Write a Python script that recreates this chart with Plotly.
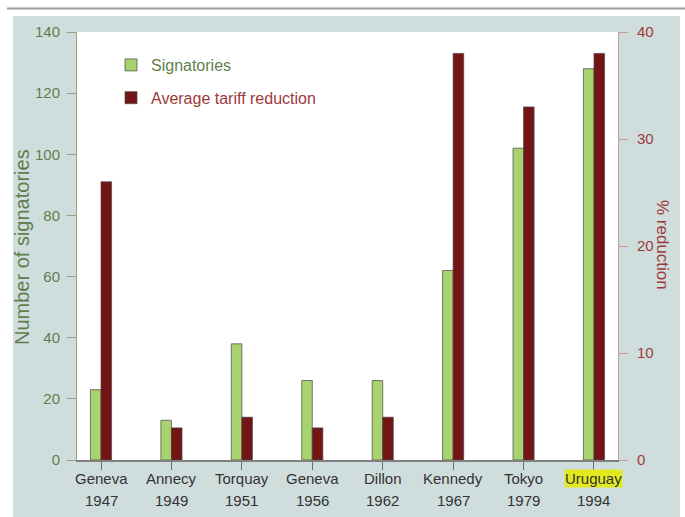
import plotly.graph_objects as go

# GATT negotiating rounds
rounds = ["Geneva", "Annecy", "Torquay", "Geneva", "Dillon", "Kennedy", "Tokyo", "Uruguay"]
years = ["1947", "1949", "1951", "1956", "1962", "1967", "1979", "1994"]
signatories = [23, 13, 38, 26, 26, 62, 102, 128]
tariff_cut = [26, 3, 4, 3, 4, 38, 33, 38]

FONT = "Liberation Sans, Arial, sans-serif"
GREEN = "#a9d36f"
RED = "#741515"
GREEN_TXT = "#5e7f4b"
RED_TXT = "#9c3a3a"
PANEL = "#cfdedd"

W, H = 685, 517
L, R, T, B = 77, 67, 32, 57
PW, PH = W - L - R, H - T - B


def px(x):
    return (x - L) / PW


def py(y):
    return (H - B - y) / PH


xs = list(range(len(rounds)))

fig = go.Figure()
fig.add_trace(go.Bar(
    x=xs, y=signatories,
    name="<span style='color:%s'>Signatories</span>" % GREEN_TXT,
    marker=dict(color=GREEN, line=dict(color="rgba(70,70,70,0.7)", width=1)),
    width=0.15, offset=-0.15, yaxis="y", legendgroup="a",
))
fig.add_trace(go.Bar(
    x=xs, y=tariff_cut,
    name="<span style='color:%s'>Average tariff reduction</span>" % RED_TXT,
    marker=dict(color=RED, line=dict(color="rgba(70,70,70,0.7)", width=1)),
    width=0.15, offset=0.0, yaxis="y2", legendgroup="b",
))

shapes = [
    # grey panel behind the chart
    dict(type="rect", xref="paper", yref="paper", layer="below",
         x0=px(13), x1=px(680), y0=py(517), y1=py(16),
         fillcolor=PANEL, line=dict(width=0)),
    # white plotting area
    dict(type="rect", xref="paper", yref="paper", layer="below",
         x0=0, x1=1, y0=0, y1=1, fillcolor="white", line=dict(width=0)),
    # rule above the panel
    dict(type="line", xref="paper", yref="paper",
         x0=px(7), x1=px(685), y0=py(8.5), y1=py(8.5),
         line=dict(color="#9a9a9a", width=2)),
]

annotations = []
for i, (name, yr) in enumerate(zip(rounds, years)):
    hl = name == "Uruguay"
    annotations.append(dict(
        x=i, xref="x", y=0, yref="paper", yanchor="middle", yshift=-18,
        text=name, showarrow=False, borderpad=0,
        bgcolor="#e2ea1f" if hl else None,
        font=dict(family=FONT, size=15, color="#333333"),
    ))
    annotations.append(dict(
        x=i, xref="x", y=0, yref="paper", yanchor="middle", yshift=-40,
        text=yr, showarrow=False,
        font=dict(family=FONT, size=15, color="#333333"),
    ))

annotations.append(dict(
    x=px(22), xref="paper", y=py(247), yref="paper", text="Number of signatories",
    textangle=-90, showarrow=False, xanchor="center", yanchor="middle",
    font=dict(family=FONT, size=20, color=GREEN_TXT),
))
annotations.append(dict(
    x=px(663), xref="paper", y=py(245), yref="paper", text="% reduction",
    textangle=90, showarrow=False, xanchor="center", yanchor="middle",
    font=dict(family=FONT, size=17, color=RED_TXT),
))

fig.update_layout(
    width=W, height=H,
    margin=dict(l=L, r=R, t=T, b=B, pad=0),
    paper_bgcolor="white",
    plot_bgcolor="rgba(0,0,0,0)",
    barmode="overlay",
    shapes=shapes,
    annotations=annotations,
    showlegend=True,
    legend=dict(
        x=px(111), y=py(48), xanchor="left", yanchor="top",
        bgcolor="rgba(0,0,0,0)", traceorder="grouped", tracegroupgap=9,
        font=dict(family=FONT, size=16),
    ),
    xaxis=dict(
        range=[-0.341, 7.341], tickvals=xs, showticklabels=False,
        ticks="outside", ticklen=8, tickcolor="#6e6e6e", tickwidth=1,
        showline=True, linecolor="#808080", linewidth=1.5,
        showgrid=False, zeroline=False, fixedrange=True,
    ),
    yaxis=dict(
        range=[0, 140], tickvals=[0, 20, 40, 60, 80, 100, 120, 140],
        ticks="outside", ticklen=9, tickcolor="#8ea581", tickwidth=1,
        showline=True, linecolor="#8ea581", linewidth=1,
        showgrid=False, zeroline=False, ticklabelstandoff=4,
        tickfont=dict(family=FONT, size=15, color=GREEN_TXT),
    ),
    yaxis2=dict(
        range=[0, 40], tickvals=[0, 10, 20, 30, 40], overlaying="y", side="right",
        ticks="outside", ticklen=9, tickcolor="#c99a9a", tickwidth=1,
        showline=True, linecolor="#c99a9a", linewidth=1,
        showgrid=False, zeroline=False, ticklabelstandoff=6,
        tickfont=dict(family=FONT, size=15, color=RED_TXT),
    ),
)

fig.write_html("out.html")
